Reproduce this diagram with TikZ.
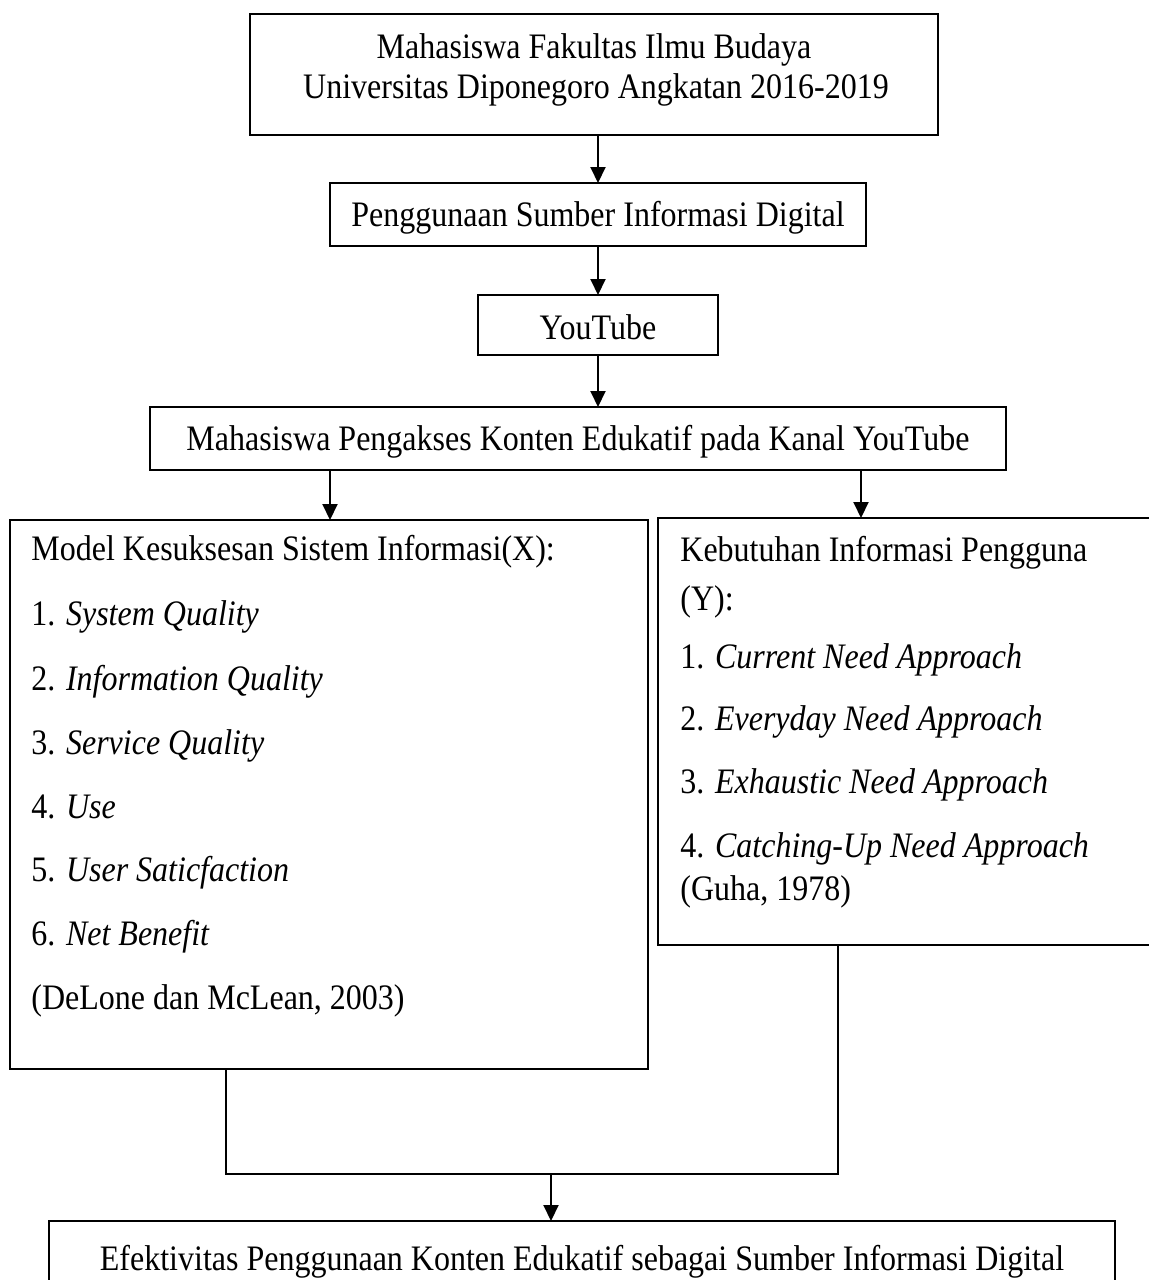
\documentclass[tikz,border=0pt]{standalone}
\usepackage{fontspec}
\usepackage{graphicx}
\setmainfont{Liberation Serif}
\usetikzlibrary{arrows.meta}
\newcommand{\stx}[1]{\scalebox{1}[1.12]{#1}}
\begin{document}
\begin{tikzpicture}[x=0.5pt,y=-0.5pt,
  every node/.style={font=\fontsize{16}{20}\selectfont},
  boxn/.style={draw,line width=1pt,inner sep=0pt,outer sep=0pt},
  txt/.style={inner sep=0pt,anchor=base west},
  ctxt/.style={inner sep=0pt,anchor=base},
  conn/.style={line width=1pt},
  arr/.style={line width=1pt,-{Triangle[width=7.5pt,length=8pt]}}]
\clip (0,0) rectangle (1149,1280);
\fill[white] (0,0) rectangle (1149,1280);
% boxes
\node[boxn,minimum width=344pt,minimum height=60.5pt] (b1) at (594,74.5) {};
\node[boxn,minimum width=268pt,minimum height=31.5pt] (b2) at (598,214.5) {};
\node[boxn,minimum width=120pt,minimum height=30pt] (b3) at (598,325) {};
\node[boxn,minimum width=428pt,minimum height=31.5pt] (b4) at (578,438.5) {};
\node[boxn,minimum width=319pt,minimum height=274.5pt] (lb) at (329,794.5) {};
\node[boxn,minimum width=266pt,minimum height=213.5pt] (rb) at (924,731.5) {};
\node[boxn,minimum width=533pt,minimum height=49.5pt] (bb) at (582,1270.5) {};
% texts
\node[ctxt] (t1a) at (594,58) {\stx{Mahasiswa Fakultas Ilmu Budaya}};
\node[ctxt] (t1b) at (596,98) {\stx{Universitas Diponegoro Angkatan 2016-2019}};
\node[ctxt] (t2) at (598,226) {\stx{Penggunaan Sumber Informasi Digital}};
\node[ctxt] (t3) at (598,339) {\stx{YouTube}};
\node[ctxt] (t4) at (578,450) {\stx{Mahasiswa Pengakses Konten Edukatif pada Kanal YouTube}};
\node[txt] (l0) at (31,560) {\stx{Model Kesuksesan Sistem Informasi(X):}};
\node[txt] (l1) at (31,625) {\stx{1. \textit{System Quality}}};
\node[txt] (l2) at (31,690) {\stx{2. \textit{Information Quality}}};
\node[txt] (l3) at (31,754) {\stx{3. \textit{Service Quality}}};
\node[txt] (l4) at (31,818) {\stx{4. \textit{Use}}};
\node[txt] (l5) at (31,881) {\stx{5. \textit{User Saticfaction}}};
\node[txt] (l6) at (31,945) {\stx{6. \textit{Net Benefit}}};
\node[txt] (l7) at (31,1009) {\stx{(DeLone dan McLean, 2003)}};
\node[txt] (r0) at (680,561) {\stx{Kebutuhan Informasi Pengguna}};
\node[txt] (r1) at (680,610) {\stx{(Y):}};
\node[txt] (r2) at (680,668) {\stx{1. \textit{Current Need Approach}}};
\node[txt] (r3) at (680,730) {\stx{2. \textit{Everyday Need Approach}}};
\node[txt] (r4) at (680,793) {\stx{3. \textit{Exhaustic Need Approach}}};
\node[txt] (r5) at (680,857) {\stx{4. \textit{Catching-Up Need Approach}}};
\node[txt] (r6) at (680,900) {\stx{(Guha, 1978)}};
\node[ctxt] (tb) at (582,1270) {\stx{Efektivitas Penggunaan Konten Edukatif sebagai Sumber Informasi Digital}};
% connectors
\draw[arr] (b1.south -| b2.north) -- (b2.north);
\draw[arr] (b2.south) -- (b3.north);
\draw[arr] (b3.south) -- (b3.south |- b4.north);
\coordinate (cl) at (330,0);
\coordinate (cr) at (861,0);
\draw[arr] (b4.south -| cl) -- (lb.north -| cl);
\draw[arr] (b4.south -| cr) -- (rb.north -| cr);
\coordinate (j1) at (226,1174);
\coordinate (j2) at (838,1174);
\coordinate (jm) at (551,1174);
\draw[conn] (lb.south -| j1) -- (j1) -- (j2) -- (rb.south -| j2);
\draw[arr] (jm) -- (bb.north -| jm);
\end{tikzpicture}
\end{document}
